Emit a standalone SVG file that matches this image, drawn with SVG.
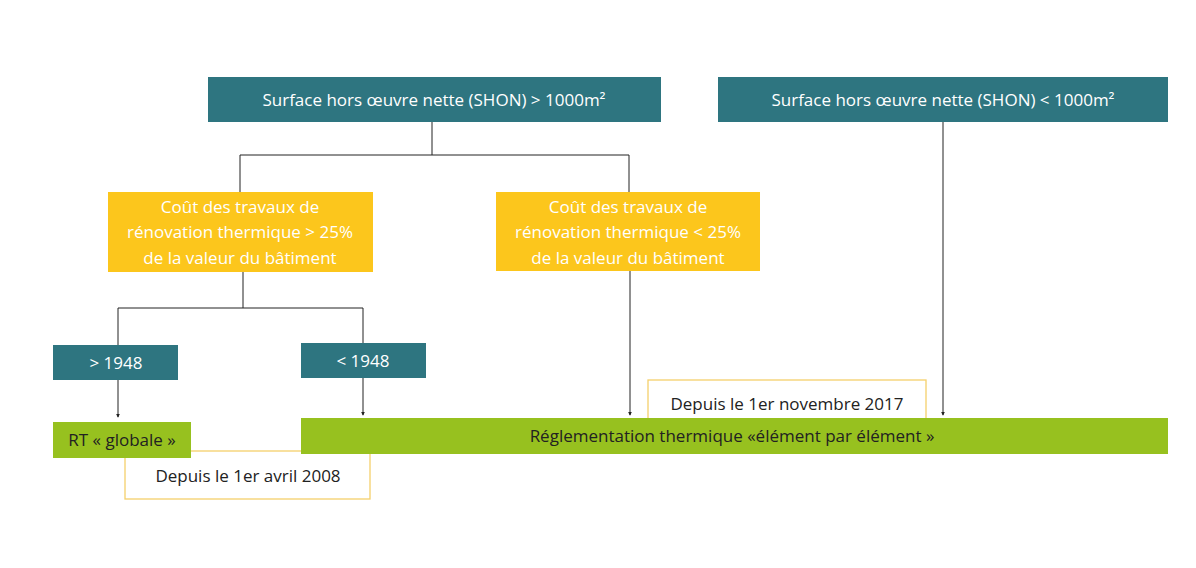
<svg xmlns="http://www.w3.org/2000/svg" width="1196" height="568" viewBox="0 0 1196 568">
<defs>
<style>
text{font-family:"Open Sans","Liberation Sans",sans-serif;font-size:17px;text-anchor:middle}
.teal{fill:#2e7580}.yel{fill:#fcc61c}.grn{fill:#97c11f}
.date{fill:#fff;stroke:#f5d06b;stroke-width:1.3}
.w{fill:#fff}.d{fill:#222}
.ln{stroke:#222;stroke-width:1;fill:none}
</style>
<marker id="ah" viewBox="0 0 6 6" refX="5" refY="3" markerWidth="4" markerHeight="4" orient="auto"><path d="M0,0L6,3L0,6z" fill="#222"/></marker>
</defs>
<rect width="1196" height="568" fill="#fff"/>
<g id="connectors">
<path class="ln" d="M432,122V155M240,193V155H629V193"/>
<path class="ln" d="M243,272V308M118,345V308H363V343"/>
<path class="ln" marker-end="url(#ah)" d="M118,380V417"/>
<path class="ln" marker-end="url(#ah)" d="M363,378V415"/>
<path class="ln" marker-end="url(#ah)" d="M630,271V415"/>
<path class="ln" marker-end="url(#ah)" d="M943,122V415"/>
</g>
<g id="shon-gt"><rect class="teal" x="208" y="77" width="453" height="45"/><text class="w" x="434" y="106">Surface hors œuvre nette (SHON) &gt; 1000m²</text></g>
<g id="shon-lt"><rect class="teal" x="718" y="77" width="450" height="45"/><text class="w" x="943" y="106">Surface hors œuvre nette (SHON) &lt; 1000m²</text></g>
<g id="cout-gt"><rect class="yel" x="108" y="192" width="265" height="80"/><text class="w" x="240" y="213">Coût des travaux de</text><text class="w" x="240" y="238">rénovation thermique &gt; 25%</text><text class="w" x="240" y="264">de la valeur du bâtiment</text></g>
<g id="cout-lt"><rect class="yel" x="496" y="192" width="264" height="79"/><text class="w" x="628" y="213">Coût des travaux de</text><text class="w" x="628" y="238">rénovation thermique &lt; 25%</text><text class="w" x="628" y="264">de la valeur du bâtiment</text></g>
<g id="gt1948"><rect class="teal" x="53" y="345" width="125" height="35"/><text class="w" x="116" y="369">&gt; 1948</text></g>
<g id="lt1948"><rect class="teal" x="301" y="343" width="125" height="35"/><text class="w" x="363" y="367">&lt; 1948</text></g>
<g id="date2008"><rect class="date" x="125" y="451" width="245" height="48"/><text class="d" x="248" y="482">Depuis le 1er avril 2008</text></g>
<g id="date2017"><rect class="date" x="648" y="380" width="278" height="42"/><text class="d" x="787" y="410">Depuis le 1er novembre 2017</text></g>
<g id="rt-globale"><rect class="grn" x="53" y="422" width="138" height="36"/><text class="d" x="122" y="446">RT « globale »</text></g>
<g id="rt-element"><rect class="grn" x="301" y="418" width="867" height="36"/><text class="d" x="732" y="442">Réglementation thermique «élément par élément »</text></g>
</svg>
